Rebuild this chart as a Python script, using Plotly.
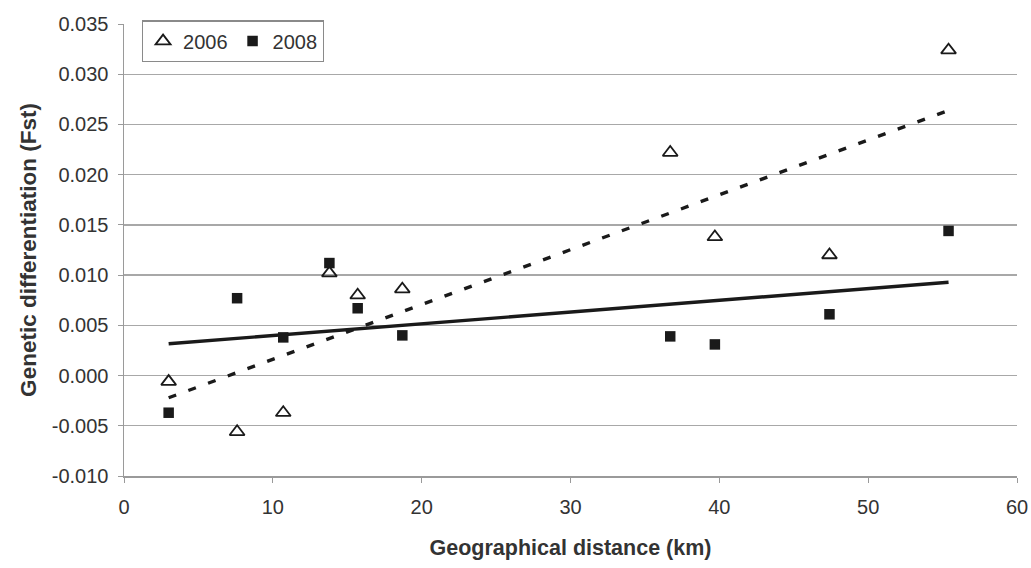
import numpy as np
import plotly.graph_objects as go

# Data
distance_km = [3.0, 7.6, 10.7, 13.8, 15.7, 18.7, 36.7, 39.7, 47.4, 55.4]
fst_2006 = [-0.0006, -0.0056, -0.0037, 0.0102, 0.0080, 0.0086, 0.0222, 0.0138, 0.0120, 0.0324]
fst_2008 = [-0.0037, 0.0077, 0.0038, 0.0112, 0.0067, 0.0040, 0.0039, 0.0031, 0.0061, 0.0144]

y_ticks = [-0.010, -0.005, 0.000, 0.005, 0.010, 0.015, 0.020, 0.025, 0.030, 0.035]
y_tick_text = ["-0.010", "-0.005", "0.000", "0.005", "0.010", "0.015", "0.020", "0.025", "0.030", "0.035"]
x_ticks = [0, 10, 20, 30, 40, 50, 60]

# Linear trendlines (least squares, as in the original spreadsheet chart)
x_arr = np.array(distance_km)
x_line = np.array([x_arr.min(), x_arr.max()])
c06 = np.polyfit(x_arr, np.array(fst_2006), 1)
c08 = np.polyfit(x_arr, np.array(fst_2008), 1)

FONT = "Arial, 'Liberation Sans', sans-serif"
TXT = "#333333"

fig = go.Figure()

fig.add_trace(go.Scatter(
    x=x_line, y=np.polyval(c06, x_line), mode="lines",
    line=dict(color="#1a1a1a", width=3.4, dash="8px,13px"),
    showlegend=False, hoverinfo="skip"))
fig.add_trace(go.Scatter(
    x=x_line, y=np.polyval(c08, x_line), mode="lines",
    line=dict(color="#1a1a1a", width=3.4),
    showlegend=False, hoverinfo="skip"))

fig.add_trace(go.Scatter(
    x=distance_km, y=fst_2006, mode="markers", name="2006",
    marker=dict(symbol="triangle-up-open", size=13, color="#1a1a1a",
                line=dict(width=1.8, color="#1a1a1a"))))
fig.add_trace(go.Scatter(
    x=distance_km, y=fst_2008, mode="markers", name="2008",
    marker=dict(symbol="square", size=10.5, color="#1a1a1a",
                line=dict(width=0))))

# Invisible helper trace on y2 so the grid axis is active
fig.add_trace(go.Scatter(x=[None], y=[None], yaxis="y2", showlegend=False,
                         hoverinfo="skip"))

fig.update_layout(
    width=1031, height=568,
    margin=dict(l=124, r=14, t=24, b=92, autoexpand=False),
    paper_bgcolor="white", plot_bgcolor="white",
    font=dict(family=FONT, size=20, color=TXT),
    xaxis=dict(
        range=[0, 60], tickvals=x_ticks, showgrid=False, zeroline=False,
        showline=True, linecolor="#9a9a9a", linewidth=1.5,
        ticks="outside", ticklen=5, tickcolor="#9a9a9a",
        ticklabelstandoff=7, automargin=False,
        tickfont=dict(size=20, color=TXT),
        title=dict(text="<b>Geographical distance (km)</b>", standoff=23,
                   font=dict(size=21.5, color=TXT)),
        fixedrange=True),
    yaxis=dict(
        range=[-0.010, 0.035], tickvals=y_ticks, ticktext=y_tick_text,
        showgrid=False, zeroline=False,
        showline=True, linecolor="#9a9a9a", linewidth=1.5,
        ticks="outside", ticklen=5, tickcolor="#9a9a9a",
        ticklabelstandoff=5, automargin=False,
        tickfont=dict(size=20, color=TXT),
        title=dict(text="<b>Genetic differentiation (Fst)</b>", standoff=9,
                   font=dict(size=22.5, color=TXT)),
        fixedrange=True),
    yaxis2=dict(
        range=[-0.010, 0.035], overlaying="y", side="left",
        tickvals=y_ticks[1:-1], showticklabels=False, ticks="",
        showgrid=True, gridcolor="#a8a8a8", gridwidth=1.3,
        zeroline=False, showline=False, fixedrange=True, automargin=False),
    legend=dict(
        x=0.02, y=1.008, xanchor="left", yanchor="top",
        orientation="h", bgcolor="white",
        bordercolor="#8a8a8a", borderwidth=1.2,
        font=dict(size=20, color=TXT),
        itemwidth=30, tracegroupgap=0),
)

# Remove the browser's default 8px page margin so the figure fills the window
fig.write_html(
    "out.html",
    config={"displayModeBar": False, "staticPlot": True},
    post_script="document.body.style.margin='0';"
                "document.body.style.overflow='hidden';",
)
